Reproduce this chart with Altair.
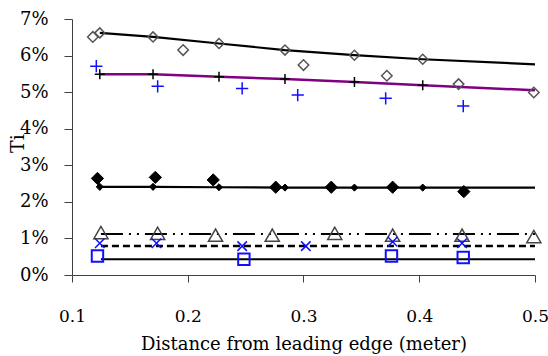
import altair as alt
import pandas as pd

# ---- data (Ti in percent, x in meter) ----
x_model = [0.124, 0.170, 0.227, 0.284, 0.344, 0.403, 0.500]
ti_model_top = [6.62, 6.51, 6.33, 6.15, 6.01, 5.90, 5.76]
ti_model_purple = [5.49, 5.49, 5.42, 5.36, 5.28, 5.19, 5.05]
ti_model_mid = [2.41, 2.41, 2.40, 2.39, 2.39, 2.39, 2.39]

x_open_diamond = [0.118, 0.196, 0.300, 0.372, 0.434, 0.499]
ti_open_diamond = [6.51, 6.15, 5.74, 5.45, 5.22, 4.99]

x_blue_plus = [0.121, 0.174, 0.247, 0.295, 0.371, 0.438]
ti_blue_plus = [5.71, 5.16, 5.10, 4.92, 4.83, 4.62]

x_filled_diamond = [0.122, 0.172, 0.222, 0.276, 0.324, 0.377, 0.4385]
ti_filled_diamond = [2.64, 2.67, 2.60, 2.40, 2.40, 2.40, 2.28]

x_triangle = [0.125, 0.174, 0.224, 0.273, 0.327, 0.377, 0.437, 0.499]
ti_triangle = [1.16, 1.14, 1.09, 1.09, 1.14, 1.09, 1.09, 1.05]

x_cross = [0.124, 0.173, 0.247, 0.302, 0.377, 0.437]
ti_cross = [0.87, 0.87, 0.79, 0.79, 0.91, 0.87]

x_square = [0.122, 0.2485, 0.376, 0.438]
ti_square = [0.52, 0.43, 0.52, 0.48]

x_flat = [0.125, 0.500]
ti_dashdot = [1.12, 1.12]
ti_dashed = [0.79, 0.79]
ti_low = [0.43, 0.43]

x_ticks = [0.1, 0.2, 0.3, 0.4, 0.5]
y_ticks = [0, 1, 2, 3, 4, 5, 6, 7]


def df(xs, ys):
    return pd.DataFrame({"x": xs, "y": ys})


FONT = "DejaVu Serif"
AX = "#404040"

x_enc = alt.X(
    "x:Q",
    scale=alt.Scale(domain=[0.1, 0.5]),
    axis=alt.Axis(
        values=x_ticks, format=".1f", grid=False,
        domainColor=AX, tickColor=AX, tickSize=7,
        labelFont=FONT, labelFontSize=17, labelPadding=26, labelFlush=False,
        title="Distance from leading edge (meter)",
        titleFont=FONT, titleFontSize=18, titleFontWeight="normal",
        titleY=74, titleBaseline="alphabetic",
    ),
)
y_enc = alt.Y(
    "y:Q",
    scale=alt.Scale(domain=[0, 7]),
    axis=alt.Axis(
        values=y_ticks, labelExpr="datum.value + '%'", grid=False,
        domainColor=AX, tickColor=AX, tickSize=8,
        labelFont=FONT, labelFontSize=18, labelPadding=16,
        title="Ti", titleFont=FONT, titleFontSize=19, titleFontWeight="normal",
        titleX=-45, titleY=124,
    ),
)

PLUS = "M-1,0L1,0M0,-1L0,1"
XMARK = "M-1,-1L1,1M-1,1L1,-1"


def line(xs, ys, color="black", width=2.0, dash=None):
    kw = dict(color=color, strokeWidth=width)
    if dash is not None:
        kw["strokeDash"] = dash
    return alt.Chart(df(xs, ys)).mark_line(**kw).encode(x=x_enc, y=y_enc)


def pts(xs, ys, shape, size, stroke, fill=None, sw=1.5):
    kw = dict(shape=shape, size=size, stroke=stroke, strokeWidth=sw, opacity=1)
    if fill is None:
        kw["filled"] = False
        kw["fillOpacity"] = 0
    else:
        kw["filled"] = True
        kw["fill"] = fill
    return alt.Chart(df(xs, ys)).mark_point(**kw).encode(x=x_enc, y=y_enc)


layers = [
    line(x_model, ti_model_top, "black", 2.2),
    line(x_model, ti_model_purple, "#800080", 2.5),
    line(x_model, ti_model_mid, "black", 2.2),
    line(x_flat, ti_dashdot, "black", 2.0, [22, 6, 2, 6, 2, 6]),
    line(x_flat, ti_dashed, "black", 2.5, [7, 4]),
    line(x_flat, ti_low, "black", 2.2),
    pts(x_model[:6], ti_model_top[:6], "diamond", 100, "#555555"),
    pts(x_open_diamond, ti_open_diamond, "diamond", 110, "#555555"),
    pts(x_model[:6], ti_model_purple[:6], PLUS, 100, "black", sw=1.5),
    pts(x_blue_plus, ti_blue_plus, PLUS, 150, "#1010ff", sw=1.5),
    pts(x_model[:6], ti_model_mid[:6], "diamond", 50, "black", fill="black", sw=1),
    pts(x_filled_diamond, ti_filled_diamond, "diamond", 150, "black", fill="black", sw=1),
    pts(x_triangle, ti_triangle, "triangle-up", 200, "#444444", sw=1.5),
    pts(x_cross, ti_cross, XMARK, 90, "#1010ff", sw=1.5),
    pts(x_square, ti_square, "square", 130, "#1010ff", sw=2),
]

chart = (
    alt.layer(*layers)
    .properties(
        width=463, height=256,
        autosize=alt.AutoSizeParams(type="none"),
        padding={"left": 72, "top": 19, "right": 13, "bottom": 81},
    )
    .configure_view(strokeWidth=0)
)

chart.save("out.html", embed_options={"renderer": "svg", "actions": False})
